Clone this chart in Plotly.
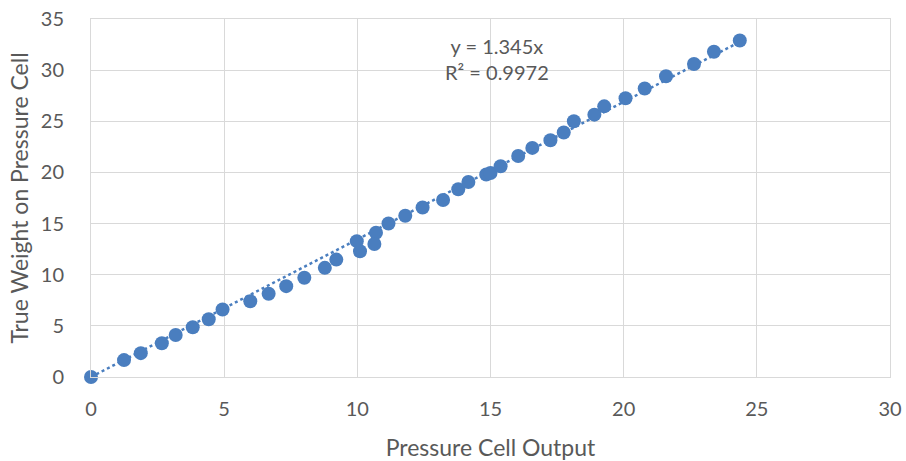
import plotly.graph_objects as go

x_vals = [0, 1.24, 1.87, 2.66, 3.18, 3.82, 4.42, 4.94, 5.98, 6.67, 7.33, 8.01, 8.78, 9.21,
          9.98, 10.1, 10.7, 10.64, 11.17, 11.8, 12.45, 13.22, 13.79, 14.17, 14.84, 15.0,
          15.38, 16.04, 16.57, 17.25, 17.75, 18.13, 18.9, 19.27, 20.07, 20.79, 21.59,
          22.64, 23.39, 24.36]
y_vals = [0, 1.65, 2.33, 3.3, 4.1, 4.86, 5.64, 6.6, 7.4, 8.14, 8.88, 9.7, 10.67, 11.48,
          13.28, 12.29, 14.1, 13.0, 15.0, 15.76, 16.57, 17.3, 18.35, 19.07, 19.8, 19.95,
          20.6, 21.6, 22.4, 23.15, 23.9, 25.0, 25.65, 26.46, 27.25, 28.2, 29.4,
          30.6, 31.8, 32.9]
slope = 1.345
r2 = 0.9972
x_ticks = [0, 5, 10, 15, 20, 25, 30]
y_ticks = [0, 5, 10, 15, 20, 25, 30, 35]

blue = "#4a7ebf"
font_fam = "Lato, Open Sans, sans-serif"
grey = "#595959"

fig = go.Figure()
x_end = max(x_vals)
fig.add_trace(go.Scatter(
    x=[0, x_end], y=[0, slope * x_end], mode="lines",
    line=dict(color=blue, width=2.5, dash="dot"), hoverinfo="skip", showlegend=False,
    cliponaxis=False))
fig.add_trace(go.Scatter(
    x=x_vals, y=y_vals, mode="markers",
    marker=dict(color=blue, size=14), showlegend=False, cliponaxis=False))

fig.add_annotation(x=15.25, y=31.1, xref="x", yref="y",
                   text=f"y = {slope}x<br>R² = {r2}", showarrow=False,
                   font=dict(family=font_fam, size=20, color=grey), align="center")

fig.update_layout(
    width=906, height=461, plot_bgcolor="white", paper_bgcolor="white",
    margin=dict(l=91, r=16, t=19, b=84),
    font=dict(family=font_fam, size=20, color=grey),
    xaxis=dict(range=[0, 30], tickvals=x_ticks, showgrid=True, gridcolor="#d9d9d9",
               gridwidth=1, zeroline=False, showline=True, linecolor="#d9d9d9",
               mirror=True, ticks="", automargin=False, ticklabelstandoff=14,
               title=dict(text="Pressure Cell Output", standoff=22, font=dict(size=23))),
    yaxis=dict(range=[0, 35], tickvals=y_ticks, showgrid=True, gridcolor="#d9d9d9",
               gridwidth=1, zeroline=False, showline=True, linecolor="#d9d9d9",
               mirror=True, ticks="", automargin=False, ticklabelstandoff=22,
               title=dict(text="True Weight on Pressure Cell", standoff=5, font=dict(size=23))),
)

fig.write_html("out.html", config={"displayModeBar": False},
               post_script="document.body.style.margin='0';document.body.style.overflow='hidden';")
